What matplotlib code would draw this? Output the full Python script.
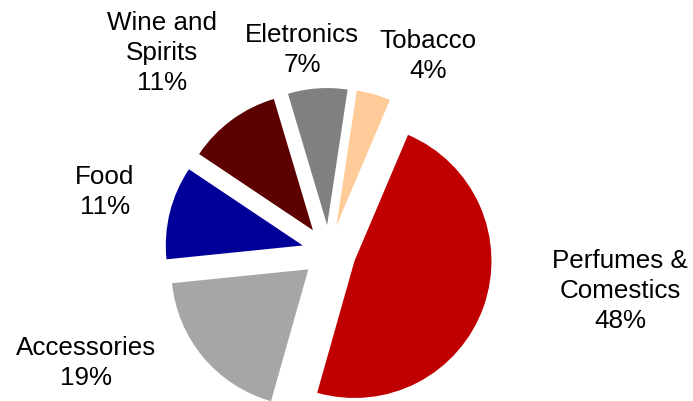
import matplotlib.pyplot as plt

# Sales share by category
categories = ['Perfumes &\nComestics', 'Accessories', 'Food', 'Wine and\nSpirits', 'Eletronics', 'Tobacco']
shares = [48, 19, 11, 11, 7, 4]
colors = ['#C00000', '#A6A6A6', '#000099', '#5C0000', '#808080', '#FFCC99']

# label block centres, in pixels from top-left
label_pos = [(620, 291), (86, 363), (105, 192), (162, 53), (302, 50), (428, 56)]

plt.rcParams['font.family'] = ['Liberation Sans', 'DejaVu Sans']

W, H = 693, 401
R = 137
fig = plt.figure(figsize=(W / 100, H / 100), dpi=100)
ax = fig.add_axes([0, 0, 1, 1])

# explode is in data units here (pixels), since the axes span the figure
ax.pie(shares, colors=colors, explode=[27] * len(shares),
       startangle=67, counterclock=False,
       center=(329, H - 252), radius=R,
       wedgeprops=dict(linewidth=0))

for cat, val, (x, y) in zip(categories, shares, label_pos):
    ax.text(x, H - y, f'{cat}\n{val}%', ha='center', va='center',
            fontsize=18.7, linespacing=1.3, color='black')

ax.set_xlim(0, W)
ax.set_ylim(0, H)
ax.set_aspect('equal')
ax.axis('off')

fig.savefig('out.png', dpi=100)
